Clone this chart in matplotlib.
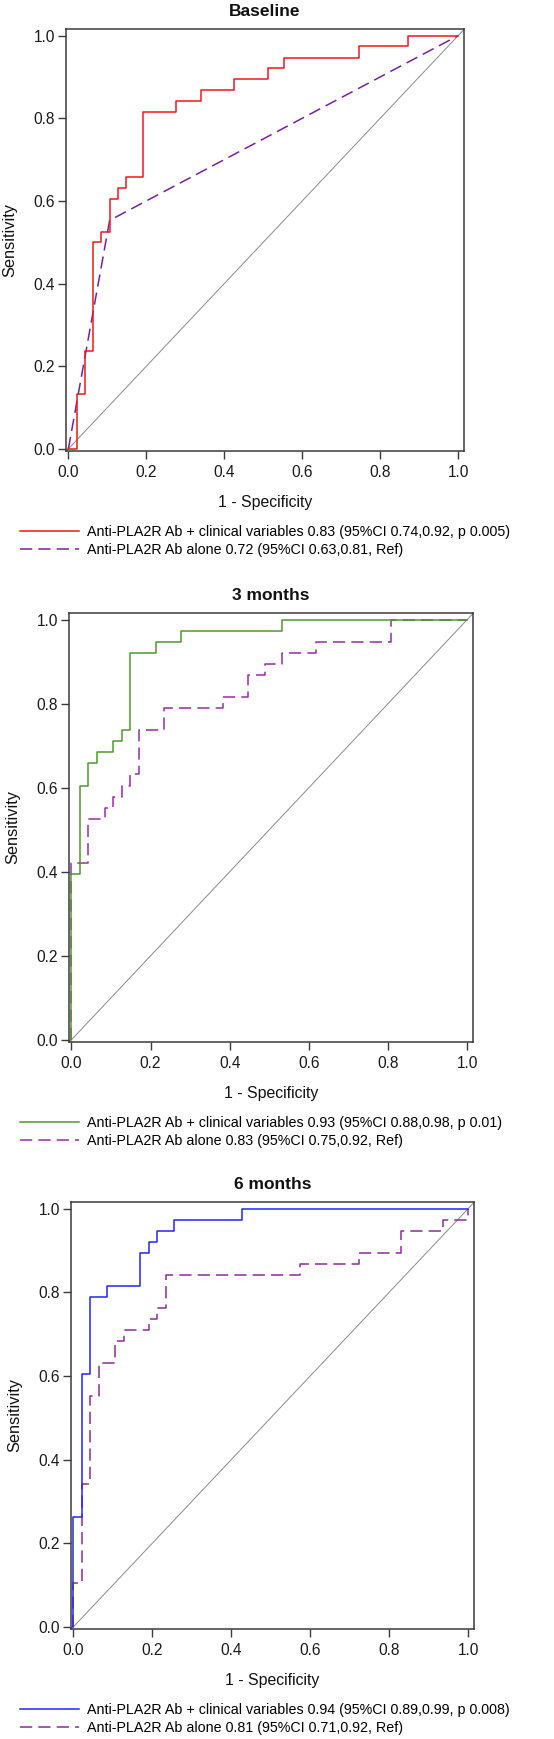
import matplotlib
matplotlib.use('Agg')
import matplotlib.pyplot as plt
from matplotlib.lines import Line2D

plt.rcParams['font.family'] = ['Liberation Sans', 'DejaVu Sans']

# ROC points, drawn as steps (horizontal then vertical)
base_combo_fpr = [0.0, 0.021, 0.043, 0.064, 0.085, 0.106, 0.128, 0.149, 0.191, 0.277,
                  0.340, 0.426, 0.511, 0.553, 0.745, 0.872, 1.0]
base_combo_tpr = [0.0, 0.132, 0.237, 0.500, 0.526, 0.605, 0.632, 0.658, 0.816, 0.842,
                  0.868, 0.895, 0.921, 0.947, 0.974, 1.0, 1.0]
# antibody alone at baseline is a straight-line (two-cut) curve
base_ab_fpr = [0.0, 0.106, 1.0]
base_ab_tpr = [0.0, 0.553, 1.0]

m3_combo_fpr = [0.0, 0.0, 0.021, 0.043, 0.064, 0.106, 0.128, 0.149, 0.213, 0.277, 0.532, 1.0]
m3_combo_tpr = [0.0, 0.395, 0.605, 0.658, 0.684, 0.711, 0.737, 0.921, 0.947, 0.974, 1.0, 1.0]
m3_ab_fpr = [0.0, 0.0, 0.043, 0.085, 0.106, 0.128, 0.149, 0.170, 0.234, 0.383, 0.447,
             0.489, 0.532, 0.617, 0.809, 1.0]
m3_ab_tpr = [0.0, 0.421, 0.526, 0.553, 0.579, 0.605, 0.632, 0.737, 0.789, 0.816, 0.868,
             0.895, 0.921, 0.947, 1.0, 1.0]

m6_combo_fpr = [0.0, 0.0, 0.021, 0.043, 0.085, 0.170, 0.191, 0.213, 0.255, 0.426, 1.0]
m6_combo_tpr = [0.0, 0.263, 0.605, 0.789, 0.816, 0.895, 0.921, 0.947, 0.974, 1.0, 1.0]
m6_ab_fpr = [0.0, 0.0, 0.021, 0.043, 0.064, 0.106, 0.128, 0.191, 0.213, 0.234, 0.574,
             0.723, 0.830, 0.936, 1.0]
m6_ab_tpr = [0.0, 0.105, 0.342, 0.553, 0.632, 0.684, 0.711, 0.737, 0.763, 0.842, 0.868,
             0.895, 0.947, 0.974, 1.0]

titles = ['Baseline', '3 months', '6 months']
combo_labels = [
    'Anti-PLA2R Ab + clinical variables 0.83 (95%CI 0.74,0.92, p 0.005)',
    'Anti-PLA2R Ab + clinical variables 0.93 (95%CI 0.88,0.98, p 0.01)',
    'Anti-PLA2R Ab + clinical variables 0.94 (95%CI 0.89,0.99, p 0.008)',
]
ab_labels = [
    'Anti-PLA2R Ab alone 0.72 (95%CI 0.63,0.81, Ref)',
    'Anti-PLA2R Ab alone 0.83 (95%CI 0.75,0.92, Ref)',
    'Anti-PLA2R Ab alone 0.81 (95%CI 0.71,0.92, Ref)',
]
combo_colors = ['#f01818', '#4e9a2a', '#2525f5']
ab_colors = ['#7a1fa0', '#9a2aa8', '#8e2a9c']

panels = [
    (base_combo_fpr, base_combo_tpr, base_ab_fpr, base_ab_tpr, False),
    (m3_combo_fpr, m3_combo_tpr, m3_ab_fpr, m3_ab_tpr, True),
    (m6_combo_fpr, m6_combo_tpr, m6_ab_fpr, m6_ab_tpr, True),
]

W, H = 554, 1739
# axes frames in pixels: left, top, right, bottom
frames = [(66, 29, 464, 451), (69, 613, 473, 1042), (71, 1202, 474, 1629)]

fig = plt.figure(figsize=(W / 100, H / 100), dpi=100)
fig.patch.set_facecolor('white')

frame_col = '#3a3a3a'
dash = (0, (8, 4))

for i, (cf, ct, af, at, ab_steps) in enumerate(panels):
    l, t, r, b = frames[i]
    ax = fig.add_axes([l / W, 1 - b / H, (r - l) / W, (b - t) / H])
    ax.axline((0, 0), slope=1, color='#8a8a8a', lw=0.7, zorder=1)
    ax.plot(cf, ct, drawstyle='steps-post', color=combo_colors[i], lw=1.1, zorder=3)
    ax.plot(af, at, drawstyle='steps-post' if ab_steps else 'default',
            color=ab_colors[i], lw=1.1, linestyle=dash, zorder=2)
    ax.set_xlim(-0.006, 1.015)
    ax.set_ylim(-0.005, 1.016)
    ax.set_xticks([0.0, 0.2, 0.4, 0.6, 0.8, 1.0])
    ax.set_yticks([0.0, 0.2, 0.4, 0.6, 0.8, 1.0])
    ax.set_xticklabels(['0.0', '0.2', '0.4', '0.6', '0.8', '1.0'])
    ax.set_yticklabels(['0.0', '0.2', '0.4', '0.6', '0.8', '1.0'])
    ax.tick_params(direction='out', length=5.5, width=1.0, color=frame_col,
                   labelsize=11.2, labelcolor='#1a1a1a')
    ax.tick_params(axis='x', pad=4.5)
    ax.tick_params(axis='y', pad=2.5)
    for s in ax.spines.values():
        s.set_color(frame_col)
        s.set_linewidth(1.1)
    ax.set_xlabel('1 - Specificity', fontsize=11.4, labelpad=11, color='#111111')
    ax.set_ylabel('Sensitivity', fontsize=11.8, labelpad=11.5, color='#111111')
    ax.set_title(titles[i], fontsize=12.5, fontweight='bold', pad=9.5, color='#111111')

    handles = [Line2D([], [], color=combo_colors[i], lw=1.1),
               Line2D([], [], color=ab_colors[i], lw=1.1, linestyle=dash)]
    leg = ax.legend(handles, [combo_labels[i], ab_labels[i]], loc='upper left',
                    bbox_to_anchor=((20 - l) / (r - l), -(74) / (b - t)),
                    frameon=False, fontsize=10.3, handlelength=4.1, handletextpad=0.6,
                    labelspacing=0.28, borderpad=0, borderaxespad=0)

fig.savefig('out.png', dpi=100, facecolor='white')
